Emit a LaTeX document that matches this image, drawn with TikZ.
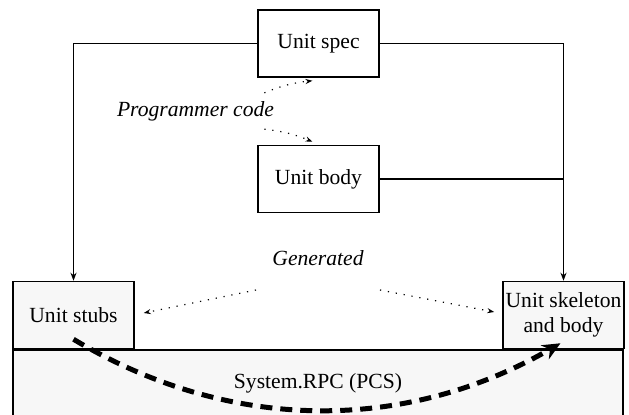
\documentclass[tikz,border=0pt]{standalone}
\usepackage{fontspec}
\setmainfont{Liberation Serif}
\newfontfamily\unitfont{Liberation Serif}
\usetikzlibrary{arrows.meta}
\begin{document}
\begin{tikzpicture}[x=0.5pt, y=-0.5pt, >={Stealth[length=4pt, width=3pt]},
		unitbox/.style={draw, line width=0.75pt, inner sep=0pt, align=center,
			minimum width=60.5pt, minimum height=33.5pt,
			font=\unitfont\fontsize{10.8}{12.5}\selectfont},
		note/.style={inner sep=2pt, font=\unitfont\fontsize{10.8}{12.5}\selectfont\itshape},
		link/.style={line width=0.75pt},
		gencode/.style={line width=0.6pt, dash pattern=on 0.6pt off 3.4pt,
			-{Stealth[length=3.5pt, width=2.5pt]}}]
	\useasboundingbox (0,0) rectangle (629,414);
	
	% Boites
	\node[unitbox, fill=black!3, minimum width=305pt, minimum height=33pt] (pcs) at (318,383) {System.RPC (PCS)};
	\node[unitbox, fill=white] (spec) at (318.5,43.5) {Unit spec};
	\node[unitbox, fill=white] (body) at (318.5,179) {Unit body};
	\node[unitbox, fill=black!3] (stubs) at (73.5,315) {Unit stubs};
	\node[unitbox, fill=black!3] (skel) at (563.5,315) {Unit skeleton\\and body};
	
	% Liaisons
	\draw[link, ->] (spec.west) -| (stubs.north);
	\draw[link, ->] (spec.east) -| (skel.north);
	\draw[link] (body.east) -- (body.east -| skel.north);
	
	% Code du programmeur
	\node[note] (prog) at (195.5,111) {Programmer code};
	\draw[gencode] ([shift={(-14,-4)}]prog.north east) to[bend left=8] ([shift={(-6,3)}]spec.south);
	\draw[gencode] ([shift={(-14,4)}]prog.south east) to[bend left=8] ([shift={(-6,-3)}]body.north);
	
	% Code genere
	\node[note] (gen) at (318,258) {Generated};
	\draw[gencode] ([shift={(-12,20)}]gen.south west) -- ([shift={(9,-2)}]stubs.east);
	\draw[gencode] ([shift={(12,20)}]gen.south east) -- ([shift={(-8,-3)}]skel.west);
	
	% Appel distant
	\draw[line width=2.5pt, dash pattern=on 6pt off 4pt, -{Stealth[length=9pt, width=8pt]}]
		([shift={(0,-10)}]stubs.south) .. controls (230,433) and (405,433) .. ([shift={(-3,-6)}]skel.south);
\end{tikzpicture}
\end{document}
